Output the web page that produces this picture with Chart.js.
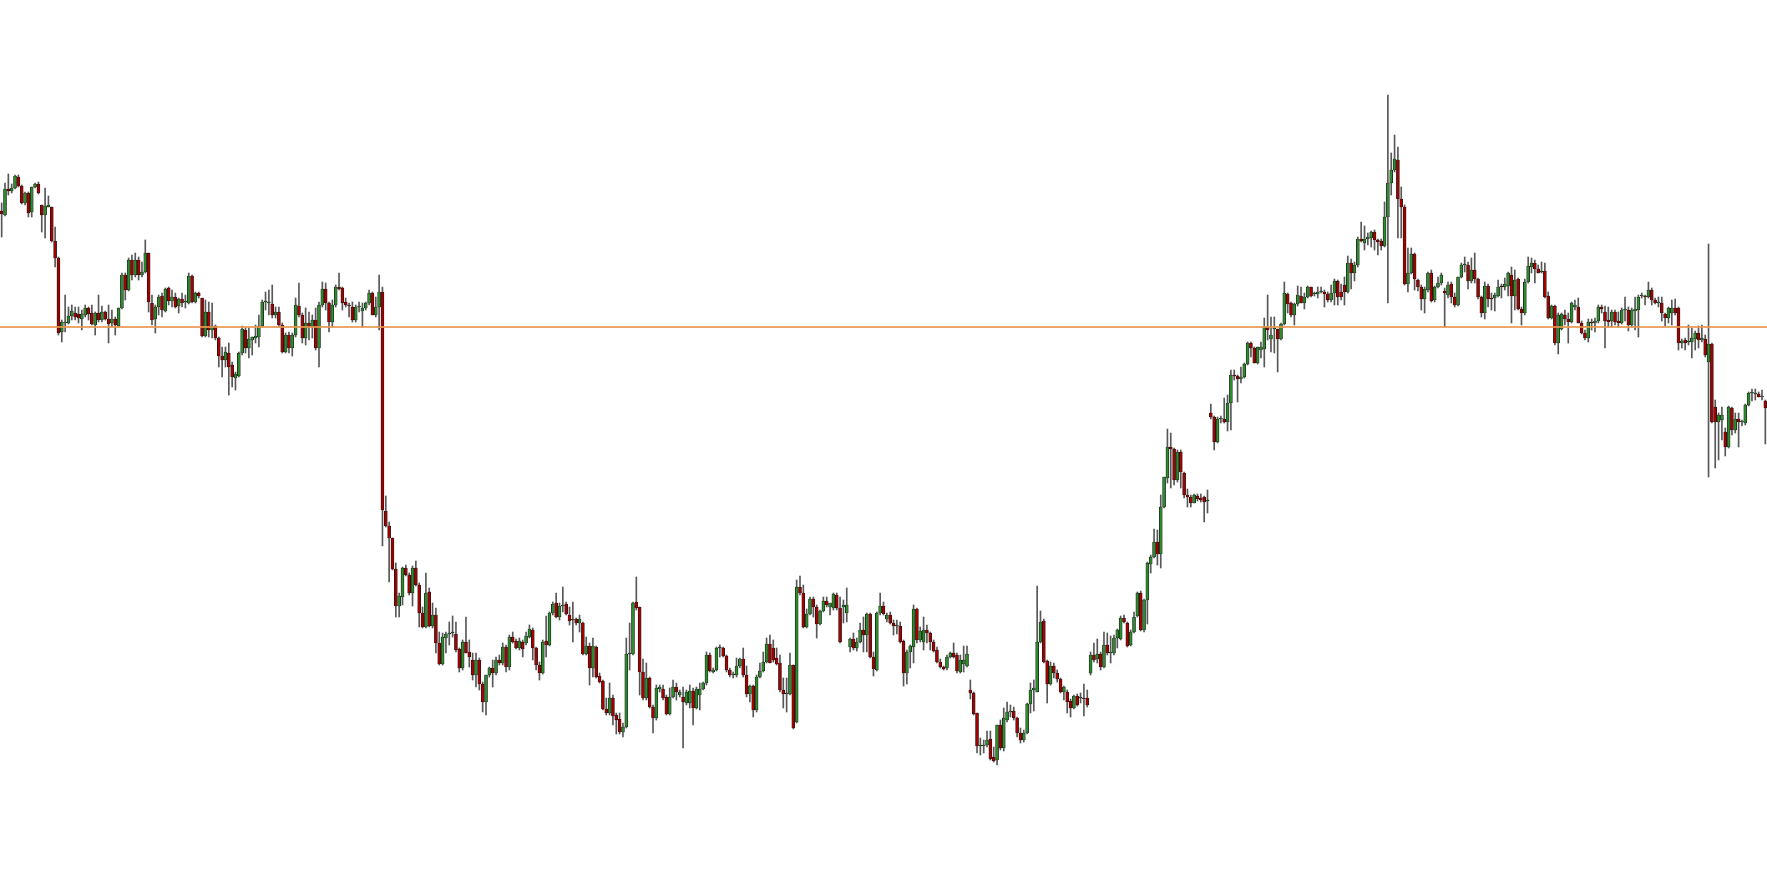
<!DOCTYPE html>
<html>
<head>
<meta charset="utf-8">
<title>Candles</title>
<script src="https://cdn.jsdelivr.net/npm/chart.js@4.4.1/dist/chart.umd.min.js"></script>
<style>
  html, body { margin: 0; padding: 0; background: #fff; }
  #wrap { width: 1767px; height: 877px; }
</style>
</head>
<body>
<div id="wrap"><canvas id="chart"></canvas></div>
<script>
// one entry per bar (arbitrary price units)
const opens = [
  689,685,711,709,712,723,714,697,707,688, 713,716,695,685,693,693,659,642,568,577,
  577,584,587,586,581,585,592,587,575,587, 580,588,581,577,581,574,592,625,610,640,
  625,640,625,628,647,
  597,581,593,604,589,612,599,603,594,601, 598,597,624,598,607,602,564,588,570,574,
  562,544,540,547,535,522,524,547,570,552, 560,562,563,574,598,597,596,585,588,575,
  548,565,552,565,594,
  585,562,577,573,580,552,595,611,597,578, 595,613,612,598,595,593,580,593,589,592,
  597,607,585,593,
  608,389,374,362,331,294,303,332,325,307, 332,315,287,273,308,274,285,257,236,262,
  266,267,266,251,232,258,248,240,225,240, 216,198,225,232,227,240,237,253,233,263,
  259,252,258,257,263,
  270,252,235,227,259,255,287,297,283,294, 296,285,280,281,277,277,246,254,232,253,
  224,219,191,187,202,185,181,168,173,246, 246,298,293,228,202,222,193,182,211,211,
  203,186,203,213,205,203,197,197,209,192, 205,211,217,245,228,230,252,252,244,230,
  225,225,234,241,225,206,214,190,223,229, 238,256,252,242,237,210,206,206,235,178,
  313,
  307,273,286,301,293,276,289,299,293,292, 305,292,293,287,253,261,252,258,270,265,
  286,243,230,287,294,281,285,277,274,274, 259,227,248,253,291,260,258,270,267,258,
  250,238,233,232,243,247,245,228,236,234, 210,207,187,154,154,155,161,143,140,175,
  152,180,188,189,182,167,160,167,196,210, 208,258,279,239,216,234,227,221,208,208,
  199,192,204,202,202,202,227,245,241,246,
  233,255,247,247,262,261,282,277,255,268, 284,307,270,300,336,343,358,346,393,422,
  453,451,420,448,427,405,403,397,404,402, 403,399,
  487,483,458,481,481,478,497,525,524,521, 523,536,557,552,537,550,551,573,561,571,
  571,561,576,606,597,585,596,604,597,603, 613,606,606,608,608,606,600,607,619,608,
  615,608,637,627,635,661,
  657,661,662,668,660,659,
  654,683,717,730,740,701,693,616,627,646, 620,613,601,610,627,600,613,617,609,605,
  616,603,595,623,635,635,619,630,621,603, 587,614,602,602,604,614,613,614,625,604,
  621,591,587,618,633,637,631,628,629,604, 582,594,557,571,585,581,578,593,593,577,
  567,562,578,577,579,593,588,580,579,588, 579,577,590,590,575,589,590,604,604,603,
  610,600,597,597,
  586,582,587,592,592,557,560,558,558,561, 567,560,561,538,556,493,478,480,468,453,
  492,470,481,478,477,495,507,506,506,503, 499
];
const highs = [
  697,717,726,716,725,725,715,708,708,713, 717,718,695,712,704,693,673,643,580,605,
  593,595,593,593,590,595,593,595,588,605, 594,589,595,590,583,592,627,627,642,645,
  647,643,638,660,647,
  605,595,605,607,612,613,610,607,602,607, 605,627,625,608,608,602,600,598,597,575,
  563,553,553,557,538,528,548,574,572,572, 563,575,585,600,608,610,615,593,593,577,
  567,568,567,602,617,
  587,592,588,585,592,598,618,617,598,600, 615,627,613,602,597,598,595,598,597,598,
  610,608,603,625,
  613,404,378,362,337,307,333,335,327,334, 339,317,293,327,312,297,292,268,267,268,
  278,284,278,252,260,283,260,247,247,242, 218,225,233,240,243,245,257,255,265,268,
  261,262,260,268,275,
  272,253,238,260,284,288,298,307,297,313, 298,293,298,282,285,278,263,257,262,254,
  227,220,202,217,205,187,187,177,262,277, 298,323,293,241,237,223,195,215,215,215,
  205,212,220,217,210,213,210,215,212,213, 217,218,248,247,232,253,255,253,245,232,
  228,242,242,252,234,215,215,225,237,248, 262,265,260,252,245,222,222,247,235,320,
  324,
  315,291,303,303,295,290,303,303,297,307, 307,303,300,312,262,267,262,277,283,287,
  287,248,288,307,298,287,288,280,280,278, 260,250,255,295,292,273,283,275,268,260,
  253,241,234,245,248,257,247,245,254,254, 220,208,187,162,160,169,169,153,175,180,
  192,198,195,193,183,172,170,197,217,220, 314,289,281,240,238,237,230,222,214,210,
  201,205,206,207,216,210,248,257,261,248,
  268,267,264,265,271,284,285,278,270,288, 308,309,301,338,345,371,370,405,423,471,
  467,452,450,450,428,411,405,406,406,406, 404,410,
  496,484,483,484,502,505,530,530,525,533, 537,558,558,553,553,558,582,605,583,583,
  571,577,618,607,598,597,614,613,607,614, 613,608,613,613,610,608,615,621,620,616,
  623,644,641,638,663,678,
  674,667,669,670,661,661,
  698,805,747,765,753,713,695,652,652,647, 621,615,613,628,630,614,623,627,612,618,
  618,607,623,637,643,638,642,647,622,604, 618,616,607,607,620,616,622,628,633,630,
  622,593,621,643,642,640,635,638,637,608, 595,595,587,587,590,587,598,600,602,579,
  570,581,581,582,595,595,594,593,590,590, 588,592,603,593,592,603,605,607,605,618,
  612,602,603,603,
  587,593,600,601,593,561,562,575,572,569, 574,575,565,656,557,500,487,493,472,494,
  493,487,487,480,496,508,511,511,508,510, 500
];
const lows = [
  663,684,705,707,711,713,696,695,683,683, 712,706,668,662,693,658,633,565,558,568,
  576,580,580,577,570,583,580,575,565,578, 578,580,557,573,565,573,591,600,609,620,
  623,620,623,627,588,
  575,567,585,583,588,595,593,592,587,593, 592,596,597,597,602,563,563,563,562,560,
  533,523,533,505,513,510,523,545,547,542, 545,557,553,573,590,585,582,582,573,547,
  547,547,544,563,583,
  557,555,560,562,550,533,593,590,568,573, 593,610,590,593,583,578,578,588,573,590,
  595,585,583,570,
  354,373,318,330,283,283,295,324,305,294, 314,273,272,272,273,272,247,235,235,247,
  255,263,248,228,230,247,233,220,213,210, 188,185,223,213,225,235,235,228,230,257,
  251,250,243,255,262,
  240,230,220,226,243,254,285,282,280,288, 285,275,258,275,268,245,245,215,223,222,
  217,190,185,185,175,166,166,163,172,230, 245,290,205,200,200,192,167,180,208,200,
  185,185,202,200,203,152,195,192,175,191, 190,210,215,228,227,229,243,243,228,223,
  222,223,232,223,203,198,183,188,222,228, 237,237,238,235,208,192,188,205,171,177,
  305,
  272,272,285,283,262,275,288,293,285,290, 290,257,277,278,248,250,249,257,248,248,
  242,224,229,285,285,278,276,265,266,257, 214,216,232,237,257,258,250,257,250,248,
  237,232,230,230,242,242,227,227,228,233, 201,185,147,145,147,153,140,138,135,150,
  149,178,183,180,163,157,158,166,187,189, 208,257,237,197,215,222,218,207,200,187,
  183,191,194,197,184,193,225,238,237,230,
  232,245,237,245,252,260,277,253,254,267, 283,269,268,276,327,342,335,332,392,417,
  412,415,418,412,402,393,393,397,399,398, 378,387,
  481,450,457,477,477,469,470,520,498,517, 522,535,543,537,536,542,533,560,548,547,
  528,560,575,587,583,575,594,597,591,602, 603,604,602,607,593,598,598,595,595,600,
  595,607,611,619,633,658,
  650,655,653,650,645,650,
  653,597,705,728,662,662,615,608,626,610, 609,590,587,608,598,598,612,615,573,602,
  597,593,594,622,628,611,617,617,601,583, 581,593,590,589,603,602,610,604,577,590,
  590,575,585,617,627,617,627,627,602,581, 581,555,546,570,575,557,577,590,577,566,
  560,558,570,568,577,587,552,573,573,575, 573,576,579,569,573,570,563,602,595,602,
  595,596,593,579,
  574,577,575,585,550,552,550,555,542,550, 552,558,543,423,477,432,440,460,444,452,
  465,467,453,474,475,494,499,500,503,500, 456
];
const closes = [
  686,711,709,712,724,714,697,707,687,713, 716,707,685,694,695,659,642,567,578,578,
  584,589,583,582,586,592,586,576,587,580, 588,581,576,581,575,592,625,610,640,625,
  640,625,628,647,598,
  580,593,603,590,611,599,603,593,601,597, 598,624,598,607,604,564,588,570,574,562,
  544,540,548,533,523,526,547,571,552,561, 563,564,574,598,598,598,585,588,575,548,
  565,552,565,595,585,
  562,577,573,580,552,595,611,597,578,595, 613,611,597,595,594,580,593,593,592,597,
  607,585,593,608,
  390,374,362,331,294,304,332,325,307,332, 315,287,273,307,274,285,257,236,263,266,
  267,267,250,232,258,247,243,225,240,216, 198,225,232,227,240,237,253,233,263,258,
  252,259,251,264,271,
  252,235,227,258,255,287,296,283,294,295, 286,279,280,277,281,246,254,232,254,223,
  218,191,187,202,184,180,168,173,246,246, 297,292,228,202,222,193,182,212,213,202,
  186,203,213,208,208,198,208,209,192,211, 211,217,245,229,230,252,252,244,230,225,
  225,234,241,225,206,214,190,223,229,238, 256,237,240,236,210,206,207,235,172,313,
  307,
  273,286,301,293,276,289,299,295,297,306, 292,258,295,295,261,252,258,270,265,286,
  243,231,287,294,286,285,277,274,274,258, 227,248,254,291,260,269,270,267,258,249,
  238,233,231,243,247,243,229,240,240,246, 207,186,154,154,155,160,141,139,175,152,
  182,188,189,182,167,160,167,196,210,212, 258,278,238,216,234,227,221,208,213,198,
  192,204,195,202,201,195,245,240,246,233,
  255,247,248,262,270,282,278,254,268,283, 307,270,300,337,343,358,346,393,423,453,
  451,420,448,428,405,403,397,405,401,400, 398,399,
  483,458,481,481,478,497,525,524,521,523, 536,557,552,537,553,553,573,570,565,571,
  561,576,607,596,585,596,605,597,603,613, 604,606,608,608,606,600,607,619,603,603,
  608,637,627,635,661,659,
  661,663,668,660,658,654,
  683,717,730,741,701,693,616,627,646,621, 613,601,611,627,599,613,617,625,607,615,
  603,595,623,635,635,619,630,621,603,587, 614,601,601,605,613,613,616,627,604,620,
  591,587,618,634,637,631,627,628,603,582, 594,557,585,586,581,578,597,595,577,567,
  562,578,577,579,593,591,579,578,588,578, 577,590,590,575,590,591,603,604,603,610,
  600,597,598,587,
  582,592,592,587,557,559,557,558,562,567, 560,562,545,556,478,478,485,485,453,493,
  470,481,478,478,495,507,507,506,503,503, 492
];
const levelPrice = 573;

const labels = opens.map((o, i) => String(i + 1));
console.log(opens.length, highs.length, lows.length, closes.length);

const upColor = '#2d8a2d';
const downColor = '#a30000';

const levelLine = {
  id: 'levelLine',
  afterDatasetsDraw(chart) {
    const { ctx, chartArea, scales } = chart;
    const y = scales.y.getPixelForValue(levelPrice);
    ctx.save();
    ctx.strokeStyle = 'rgba(232, 150, 80, 0.85)';
    ctx.lineWidth = 2;
    ctx.beginPath();
    ctx.moveTo(chartArea.left, y);
    ctx.lineTo(chartArea.right, y);
    ctx.stroke();
    ctx.restore();
  }
};

function initChart(target) {
  const wicks = lows.map((l, i) => [l, highs[i]]);
  const bodies = opens.map((o, i) => [o, closes[i]]);

  return new Chart(target, {
    type: 'bar',
    data: {
      labels: labels,
      datasets: [{
        label: 'wick',
        data: wicks,
        backgroundColor: 'rgba(45, 45, 45, 0.8)',
        barThickness: 1,
        grouped: false,
        order: 2
      }, {
        label: 'body',
        data: bodies,
        backgroundColor: (c) => (closes[c.dataIndex] >= opens[c.dataIndex] ? upColor : downColor),
        borderColor: '#151515',
        borderWidth: 0.7,
        borderSkipped: false,
        barThickness: 3,
        minBarLength: 1,
        grouped: false,
        order: 1
      }]
    },
    options: {
      responsive: true,
      maintainAspectRatio: false,
      devicePixelRatio: 1,
      animation: false,
      layout: { padding: 0 },
      plugins: { legend: { display: false }, tooltip: { enabled: false } },
      scales: {
        x: { display: false, offset: true },
        y: { display: false, min: 23, max: 900 }
      }
    },
    plugins: [levelLine]
  });
}

document.addEventListener('DOMContentLoaded', () => initChart(document.querySelector('#chart')));
</script>
</body>
</html>
